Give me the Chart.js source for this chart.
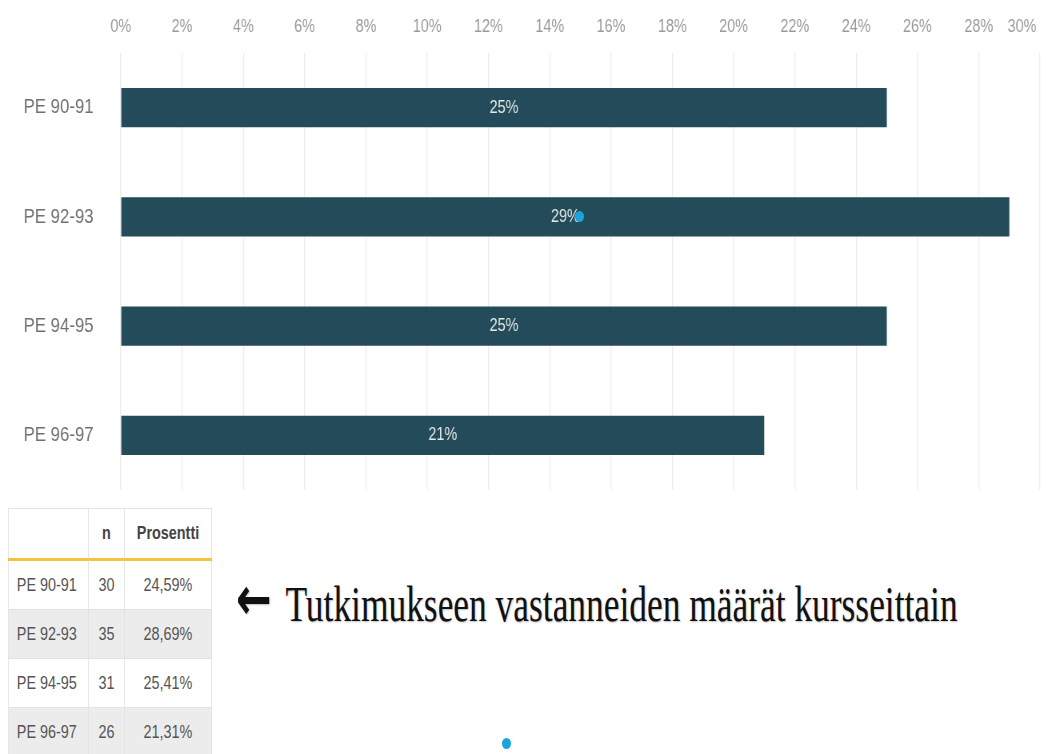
<!DOCTYPE html>
<html>
<head>
<meta charset="utf-8">
<script src="https://cdn.jsdelivr.net/npm/chart.js@4.4.1/dist/chart.umd.min.js"></script>
<style>
  html, body { margin: 0; padding: 0; background: #fff; width: 1046px; height: 754px; overflow: hidden; }
  body { position: relative; font-family: "Liberation Sans", Arial, sans-serif; }
  /* le visuel d'origine est un peu écrasé horizontalement */
  #myChart { position: absolute; left: 0; top: 0; width: 1308px; height: 495px; transform: scaleX(0.8); transform-origin: 0 0; }
  #tableBox { position: absolute; left: 8px; top: 508px; transform: scaleX(0.8); transform-origin: 0 0; }
  table { border-collapse: collapse; width: 255px; font-size: 18px; color: #555; }
  th, td { border: 1px solid #e2e2e2; text-align: center; padding: 0; height: 48px; }
  th { height: 49px; font-weight: bold; color: #444; border-bottom: 3px solid #f5c33b; }
  td.name { text-align: left; padding-left: 10px; }
  tr.alt td { background: #ececec; }
  #note { position: absolute; left: 236px; top: 575px; font-family: "Liberation Serif", "Times New Roman", serif; font-size: 50px; color: #111; white-space: nowrap; transform: scaleX(0.708); transform-origin: 0 0; text-shadow: 1px 1px 2px rgba(0,0,0,0.25); }
  #note .arrow { font-family: "DejaVu Sans", sans-serif; font-weight: bold; font-size: 60px; line-height: 0; margin-right: 8px; position: relative; top: -2px; }
  .dot { position: absolute; width: 9px; height: 11px; border-radius: 50%; background: #1ba3dc; }
</style>
</head>
<body>
<canvas id="myChart" width="1308" height="495"></canvas>
<div id="tableBox"><table id="countTable"></table></div>
<div id="note"><span class="arrow">←</span> Tutkimukseen vastanneiden määrät kursseittain</div>
<div class="dot" style="left:575px; top:211px;"></div>
<div class="dot" style="left:502px; top:738px;"></div>

<script>
// Données
const courses = ['PE 90-91', 'PE 92-93', 'PE 94-95', 'PE 96-97'];
const barValues = [25, 29, 25, 21];
const counts = [30, 35, 31, 26];
const percents = ['24,59%', '28,69%', '25,41%', '21,31%'];
const tableHeaders = ['', 'n', 'Prosentti'];

// Tableau sous le graphique
const table = document.getElementById('countTable');
let html = '<tr>' + tableHeaders.map(h => `<th>${h}</th>`).join('') + '</tr>';
courses.forEach((c, i) => {
    html += `<tr class="${i % 2 ? 'alt' : ''}"><td class="name">${c}</td><td>${counts[i]}</td><td>${percents[i]}</td></tr>`;
});
table.innerHTML = html;
table.querySelectorAll('th')[0].style.width = '99px';
table.querySelectorAll('th')[1].style.width = '44px';

// Étiquettes de valeur au centre des barres
const barLabels = {
    id: 'barLabels',
    afterDatasetsDraw(chart) {
        const ctx = chart.ctx;
        const meta = chart.getDatasetMeta(0);
        ctx.save();
        ctx.fillStyle = '#e3e7e9';
        ctx.font = '18px "Liberation Sans", Arial, sans-serif';
        ctx.textAlign = 'center';
        ctx.textBaseline = 'middle';
        meta.data.forEach((bar, i) => {
            const p = bar.getCenterPoint();
            ctx.fillText(barValues[i] + '%', p.x, p.y);
        });
        ctx.restore();
    }
};

const ctx = document.getElementById('myChart').getContext('2d');
new Chart(ctx, {
    type: 'bar',
    data: {
        labels: courses,
        datasets: [{
            data: barValues,
            backgroundColor: '#234b59',
            borderWidth: 0,
            barPercentage: 0.357,
            categoryPercentage: 1
        }]
    },
    options: {
        indexAxis: 'y',
        responsive: false,
        animation: false,
        layout: { padding: { top: 0, right: 8, bottom: 5, left: 0 } },
        plugins: {
            legend: { display: false },
            tooltip: { enabled: false }
        },
        scales: {
            x: {
                position: 'top',
                min: 0,
                max: 30,
                afterFit: s => { s.height = 53; s.paddingLeft = 0; s.paddingRight = 0; },
                grid: { color: '#ececec', lineWidth: 1.25, drawTicks: false },
                border: { display: false },
                ticks: {
                    stepSize: 2,
                    padding: 15,
                    maxRotation: 0,
                    minRotation: 0,
                    autoSkip: false,
                    color: '#9a9a9a',
                    font: { size: 18, family: '"Liberation Sans", Arial, sans-serif' },
                    // le dernier libellé est décalé vers la gauche comme sur l'original
                    callback: v => v === 30 ? '30%' + ' '.repeat(9) : v + '%'
                }
            },
            y: {
                afterFit: s => { s.width = 151; s.paddingTop = 0; s.paddingBottom = 0; },
                grid: { display: false, drawTicks: false },
                border: { display: false },
                ticks: {
                    padding: 34,
                    color: '#707070',
                    font: { size: 21, family: '"Liberation Sans", Arial, sans-serif' }
                }
            }
        }
    },
    plugins: [barLabels]
});
</script>
</body>
</html>
